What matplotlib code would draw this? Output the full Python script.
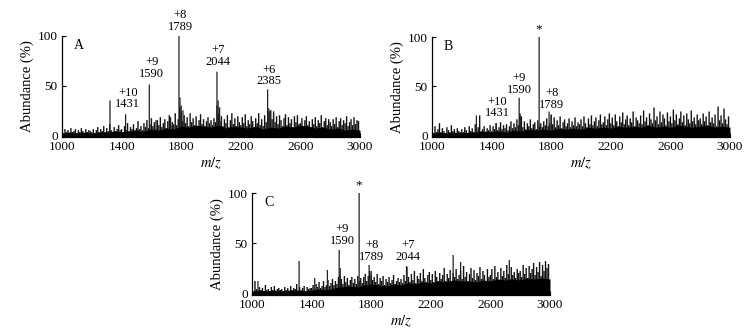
import numpy as np
import matplotlib
matplotlib.use("Agg")
import matplotlib.pyplot as plt

plt.rcParams['font.family'] = ['Liberation Serif', 'DejaVu Serif']
plt.rcParams['mathtext.fontset'] = 'stix'

# ---------------- data ----------------
noise_mz = list(range(1000, 3000, 10))  # 200 positions

noise_A = [4,2,6,3,5,2,7,3,4,6,2,5,3,7,4,2,6,3,5,4,
           3,6,2,5,8,3,6,4,9,3,7,4,11,5,3,8,4,6,10,5,
           6,3,9,5,12,4,8,6,11,5,7,14,6,9,5,12,8,15,7,11,
           17,9,13,6,15,10,18,8,12,16,7,14,20,9,13,11,22,10,16,28,
           24,14,20,12,18,9,22,13,17,10,19,8,15,21,11,16,9,14,18,12,
           15,10,17,13,30,22,14,19,9,16,12,20,8,15,22,11,17,9,19,13,
           10,18,12,21,9,15,11,19,14,8,17,12,22,10,16,9,20,13,17,24,
           25,16,22,13,19,11,20,15,9,17,21,10,18,12,16,8,19,13,20,11,
           12,17,9,15,19,10,14,8,16,11,18,9,15,12,20,8,14,17,10,16,
           13,9,16,11,18,8,14,17,10,15,12,19,9,13,16,10,18,11,15,14]

noise_B = [5,2,9,3,6,12,3,7,4,2,8,5,3,10,4,6,2,7,4,3,
           6,3,8,5,2,9,4,7,3,11,5,8,20,4,6,9,3,7,5,10,
           4,9,6,12,5,8,13,6,10,7,11,5,9,14,7,12,8,16,10,22,
           19,8,14,6,12,9,16,7,11,13,6,15,9,12,8,14,10,17,9,12,
           21,11,18,8,15,10,19,7,13,16,9,12,17,8,14,10,18,9,13,11,
           16,9,19,12,8,17,11,20,10,14,18,9,15,21,11,13,19,10,16,22,
           12,18,10,21,14,9,19,13,23,11,16,20,10,17,13,24,9,18,15,12,
           20,11,25,14,18,10,22,16,12,28,15,19,11,24,13,21,17,10,23,14,
           19,12,26,15,21,11,17,24,13,20,10,22,16,12,25,14,18,11,21,15,
           17,11,22,14,19,10,24,13,18,12,21,9,29,15,20,12,27,16,11,19]

noise_C = [3,1,12,4,2,6,3,5,2,8,3,4,2,6,3,7,2,4,5,3,
           4,2,6,3,5,2,7,3,5,4,9,2,6,3,5,7,2,6,4,5,
           5,8,4,9,6,11,5,7,12,6,8,13,7,10,14,8,12,9,16,18,
           14,9,17,11,15,8,13,16,10,14,9,17,12,15,10,16,19,12,17,22,
           18,13,16,11,19,9,15,12,17,8,14,11,16,10,13,18,9,12,15,11,
           14,10,18,12,26,16,11,19,13,22,10,17,14,20,12,24,15,11,18,21,
           13,19,11,22,16,12,20,14,18,25,12,19,15,23,11,20,16,24,14,18,
           22,14,27,16,21,12,19,25,15,23,13,20,17,26,14,22,18,12,24,16,
           18,24,14,27,16,21,13,25,17,22,15,28,19,14,26,18,21,15,24,20,
           22,16,28,19,25,15,27,20,24,30,18,26,21,31,17,28,22,32,25,29]

band_mz = list(range(1000, 3001, 50))
band_A = [2,3,2,3,2,3,3,4,3,4,5,4,6,5,7,6,9,8,10,9,8,10,7,9,8,7,9,6,8,7,9,8,10,9,7,8,6,7,5,6,5]
band_B = [2,3,2,3,2,3,3,4,3,4,3,5,4,6,5,6,5,7,6,7,6,8,7,8,7,9,8,9,8,10,8,9,8,10,9,8,9,10,8,9,8]
band_C = [2,3,2,3,2,3,3,2,3,4,3,5,6,7,6,8,9,8,7,9,8,10,9,11,10,12,11,13,12,12,11,13,12,14,13,14,13,15,14,15,14]

peaks_A_mz = [1322, 1427, 1586, 1631, 1729, 1785, 1792, 1800, 1812, 2040, 2048, 2058, 2380, 2388, 2400, 2420]
peaks_A_h  = [35, 21, 51, 15, 18, 100, 38, 30, 25, 64, 35, 28, 46, 27, 25, 24]
peaks_B_mz = [1298, 1431, 1585, 1592, 1719, 1786, 1800]
peaks_B_h  = [20, 12, 38, 20, 100, 24, 20]
peaks_C_mz = [1040, 1316, 1421, 1506, 1585, 1592, 1719, 1786, 1800, 2037, 2350, 2400, 2727]
peaks_C_h  = [12, 32, 15, 23, 43, 25, 100, 28, 22, 27, 38, 31, 33]

labels_A = ["+10\n1431", "+9\n1590", "+8\n1789", "+7\n2044", "+6\n2385"]
labels_A_x = [1441, 1602, 1792, 2049, 2391]
labels_A_y = [25, 56, 103, 68, 48]
labels_B = ["+10\n1431", "+9\n1590", "+8\n1789", "*"]
labels_B_x = [1436, 1584, 1805, 1719]
labels_B_y = [16, 40, 25, 102]
labels_C = ["+9\n1590", "+8\n1789", "+7\n2044", "*"]
labels_C_x = [1605, 1805, 2047, 1719]
labels_C_y = [46, 30, 30, 102]

xticks = [1000, 1400, 1800, 2200, 2600, 3000]
yticks = [0, 50, 100]

# ---------------- figure ----------------
fig = plt.figure(figsize=(7.52, 3.36), dpi=100)
W, H = 752, 336

def make_ax(left, top, bottom, right):
    return fig.add_axes([left / W, 1 - bottom / H, (right - left) / W, (bottom - top) / H])

axA = make_ax(62, 36, 137, 360)
axB = make_ax(432, 37, 137, 730)
axC = make_ax(252, 193, 295, 550)

panels = [
    (axA, "A", noise_A, band_A, peaks_A_mz, peaks_A_h, labels_A, labels_A_x, labels_A_y),
    (axB, "B", noise_B, band_B, peaks_B_mz, peaks_B_h, labels_B, labels_B_x, labels_B_y),
    (axC, "C", noise_C, band_C, peaks_C_mz, peaks_C_h, labels_C, labels_C_x, labels_C_y),
]

for ax, letter, noise, band, pmz, ph, labs, lx, ly in panels:
    lc = ax.vlines(noise_mz, -2, noise, color='#111111', lw=1.0, zorder=2)
    lc.set_snap(False)
    lp = ax.vlines(pmz, -2, ph, color='#222222', lw=0.9, zorder=2)
    lp.set_snap(False)
    ax.fill_between(band_mz, -2, band, color='black', lw=0, zorder=3)
    for t, x, y in zip(labs, lx, ly):
        fs = 9.5 if t == "*" else 9
        ax.text(x, y, t, ha='center', va='bottom', fontsize=fs,
                linespacing=0.95, clip_on=False)
    ax.text(1080, 90, letter, ha='left', va='center', fontsize=10)
    ax.set_xlim(1000, 3000)
    ax.set_ylim(-2, 100)
    ax.set_xticks(xticks)
    ax.set_yticks(yticks)
    ax.tick_params(direction='in', length=3, width=0.8, labelsize=9.5, pad=3)
    ax.spines['top'].set_visible(False)
    ax.spines['right'].set_visible(False)
    ax.spines['left'].set_linewidth(0.9)
    ax.spines['bottom'].set_linewidth(0.9)
    ax.set_ylabel("Abundance (%)", fontsize=10.5, labelpad=3)
    ax.set_xlabel("$m/z$", fontsize=10.5, labelpad=2)

fig.savefig("out.png", dpi=100)
